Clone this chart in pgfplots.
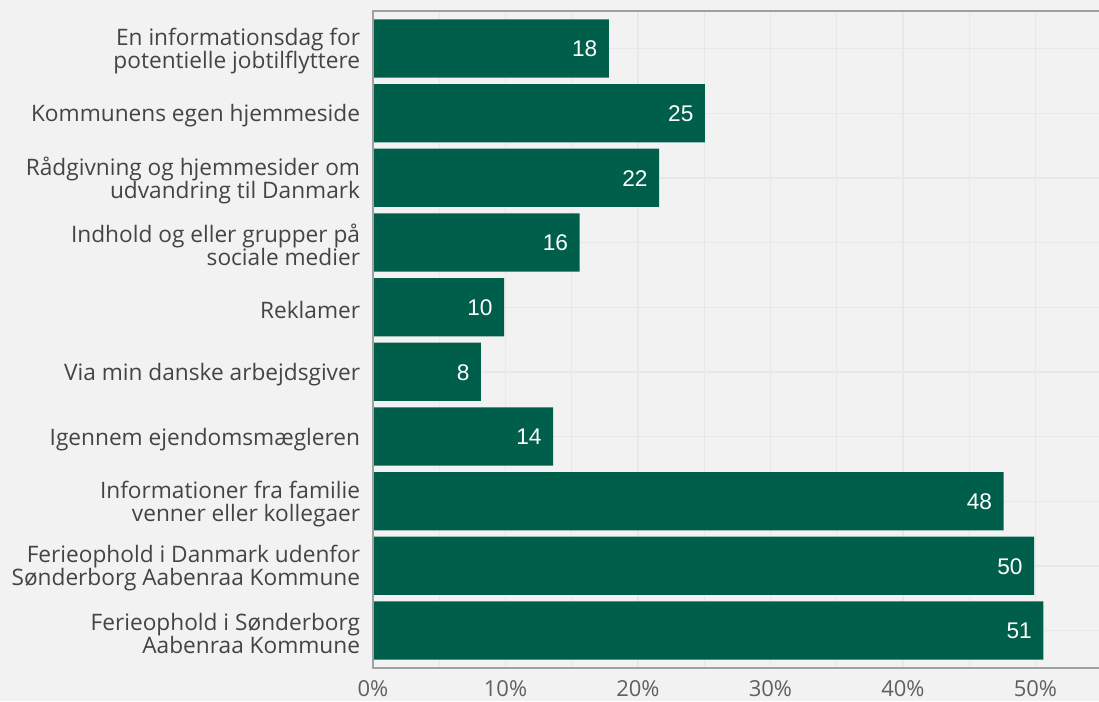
\documentclass[border=0pt]{standalone}
\usepackage{fontspec}
\setmainfont{Open Sans}
\newfontfamily\valfont{Liberation Sans}
\usepackage{pgfplots}
\pgfplotsset{compat=1.18}
\usetikzlibrary{backgrounds}
\definecolor{bgcol}{RGB}{242,242,242}
\definecolor{gridcol}{RGB}{232,232,232}
\definecolor{barcol}{RGB}{0,95,75}
\definecolor{labcol}{RGB}{68,68,68}
\definecolor{axcol}{RGB}{160,160,160}
\begin{document}
\begin{tikzpicture}
\begin{axis}[
  scale only axis,
  width=544.5pt, height=492.75pt,
  xbar, bar width=0.9,
  xmin=0, xmax=54.8,
  ymin=-0.58, ymax=9.58,
  axis background/.style={fill=bgcol},
  axis line style={draw=none},
  xtick={0,10,20,30,40,50},
  minor xtick={5,15,25,35,45},
  xticklabels={0\%,10\%,20\%,30\%,40\%,50\%},
  ytick={0,...,9},
  yticklabels={
    {Ferieophold i Sønderborg\\Aabenraa Kommune},
    {Ferieophold i Danmark udenfor\\Sønderborg Aabenraa Kommune},
    {Informationer fra familie\\venner eller kollegaer},
    {Igennem ejendomsmægleren},
    {Via min danske arbejdsgiver},
    {Reklamer},
    {Indhold og eller grupper på\\sociale medier},
    {Rådgivning og hjemmesider om\\udvandring til Danmark},
    {Kommunens egen hjemmeside},
    {En informationsdag for\\potentielle jobtilflyttere}},
  major tick length=0pt, minor tick length=0pt,
  xmajorgrids, xminorgrids, ymajorgrids,
  grid style={draw=gridcol, line width=1pt},
  minor grid style={draw=gridcol, line width=1pt},
  xticklabel style={font=\fontsize{16.5}{18}\selectfont, text=labcol!85, inner sep=0pt, yshift=-9pt},
  yticklabel style={font=\fontsize{17}{17.25}\selectfont, text=labcol, align=right, inner sep=0pt, xshift=-9.5pt, yshift=-2pt},
  point meta=explicit symbolic,
  nodes near coords,
  every node near coord/.append style={anchor=east, xshift=-8.5pt, yshift=-0.5pt, text=white, font=\valfont\fontsize{17}{18}\selectfont, inner sep=0pt},
  clip=false,
]
\addplot[fill=barcol, draw=none] coordinates {
  (50.6,0) [51]
  (49.9,1) [50]
  (47.6,2) [48]
  (13.6,3) [14]
  (8.15,4) [8]
  (9.9,5) [10]
  (15.6,6) [16]
  (21.6,7) [22]
  (25.06,8) [25]
  (17.8,9) [18]
};
\draw[axcol, line width=1pt] (rel axis cs:1,1) -- (rel axis cs:0,1) -- (rel axis cs:0,0) -- (rel axis cs:1,0);
\coordinate (ll) at (rel axis cs:0,0);
\end{axis}
\pgfresetboundingbox
\path[use as bounding box] ([xshift=-279.75pt, yshift=-24.75pt]ll) rectangle ([xshift=544.5pt, yshift=501pt]ll);
\begin{pgfonlayer}{background}
\fill[bgcol] ([xshift=-279.75pt, yshift=-24.75pt]ll) rectangle ([xshift=544.5pt, yshift=501pt]ll);
\end{pgfonlayer}
\end{tikzpicture}
\end{document}
